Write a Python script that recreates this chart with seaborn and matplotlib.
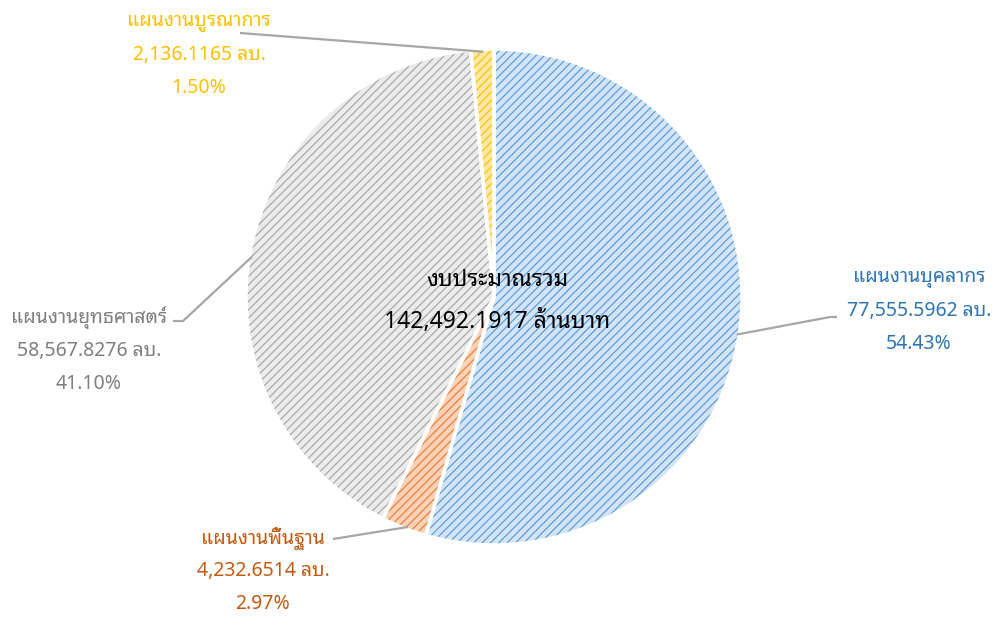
import matplotlib
matplotlib.use("Agg")
import matplotlib.pyplot as plt
import numpy as np
import seaborn as sns

# budget plans (million baht) and their shares
plans = ["แผนงานบุคลากร", "แผนงานพื้นฐาน", "แผนงานยุทธศาสตร์", "แผนงานบูรณาการ"]
amounts = [77555.5962, 4232.6514, 58567.8276, 2136.1165]
amount_text = ["77,555.5962 ลบ.", "4,232.6514 ลบ.", "58,567.8276 ลบ.", "2,136.1165 ลบ."]
percent_text = ["54.43%", "2.97%", "41.10%", "1.50%"]
center_title = "งบประมาณรวม"
center_total = "142,492.1917 ล้านบาท"

hatch_colors = ["#5B9BD5", "#ED7D31", "#A5A5A5", "#FFC000"]
face_colors = ["#D3E4F6", "#F9D3B9", "#EBEBEB", "#FFE8A6"]
text_colors = ["#2E75B6", "#C55A11", "#7F7F7F", "#FFC000"]

sns.set_theme(style="white")
plt.rcParams["font.family"] = ["Noto Sans Thai Looped", "Noto Sans", "DejaVu Sans"]
plt.rcParams["hatch.linewidth"] = 0.85

W, H = 1001, 617
fig = plt.figure(figsize=(W / 100, H / 100), dpi=100)
ax = fig.add_axes([0, 0, 1, 1])


def py(y):
    # pixel row (from top) -> data y
    return H - y


cx, cy, r = 494, py(297), 248

wedges, _ = ax.pie(amounts, colors=face_colors, startangle=90, counterclock=False,
                   center=(cx, cy), radius=r, wedgeprops=dict(linewidth=0))
for w, hc in zip(wedges, hatch_colors):
    w.set_hatch("////")
    w.set_edgecolor(hc)
    w.set_linewidth(0)
# white borders on top
ax.pie(amounts, colors=["none"] * 4, startangle=90, counterclock=False,
       center=(cx, cy), radius=r, wedgeprops=dict(linewidth=2.5, edgecolor="white"))

# pie() resets the limits, so set them afterwards
ax.set_xlim(0, W)
ax.set_ylim(0, H)
ax.set_aspect("equal")
ax.axis("off")

# label layout: text centre x, first line y, leader points (pixel coords), attach angle
label_x = [919, 263, 89, 199]
label_y = [278, 538, 318, 22]
leader_pts = [[(837, 317), (830, 317)], [(333, 539)], [(173, 321), (183, 321)], [(240, 33)]]
attach_ang = [-8.8, -110.5, 170.6, 92.5]
line_gap = 33

for i in range(4):
    lines = [plans[i], amount_text[i], percent_text[i]]
    for k, s in enumerate(lines):
        ax.text(label_x[i], py(label_y[i] + k * line_gap), s, ha="center", va="center",
                fontsize=14, color=text_colors[i])
    a = np.deg2rad(attach_ang[i])
    ex, ey = cx + 0.99 * r * np.cos(a), cy + 0.99 * r * np.sin(a)
    xs = [p[0] for p in leader_pts[i]] + [ex]
    ys = [py(p[1]) for p in leader_pts[i]] + [ey]
    ax.plot(xs, ys, color="#A6A6A6", lw=1.6, solid_capstyle="butt")

ax.text(497, py(280), center_title, ha="center", va="center", fontsize=16.5, color="black")
ax.text(497, py(322), center_total, ha="center", va="center", fontsize=16.5, color="black")

fig.savefig("out.png", dpi=100)
